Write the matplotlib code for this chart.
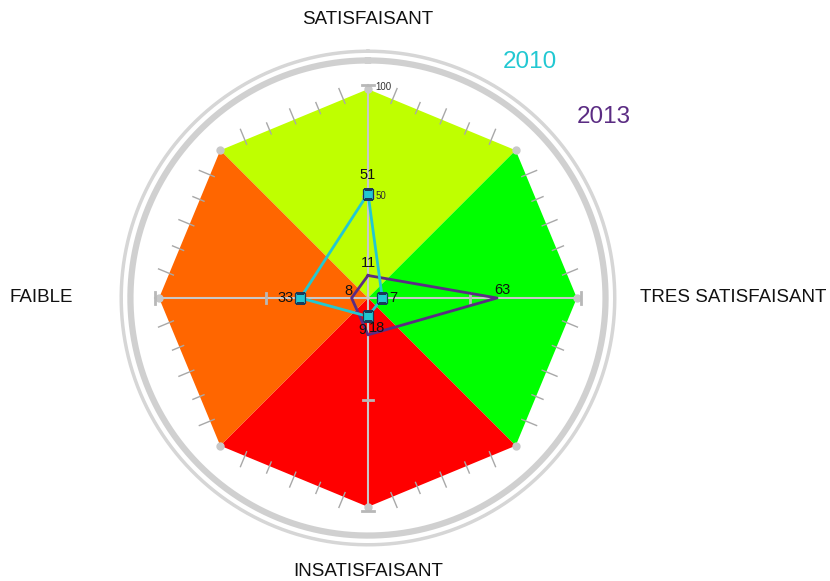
import numpy as np
import matplotlib
matplotlib.use("Agg")
import matplotlib.pyplot as plt

plt.rcParams['font.family'] = ['Liberation Sans', 'DejaVu Sans']

categories = ["SATISFAISANT", "TRES SATISFAISANT", "INSATISFAISANT", "FAIBLE"]
values_2010 = [51, 7, 9, 33]
values_2013 = [11, 63, 18, 8]
series_names = ["2010", "2013"]
scale_ticks = [50, 100]

c2010 = "#22C8D2"
c2013 = "#5B2C83"
zone_colors = ["#BFFF00", "#00FF00", "#FF0000", "#FF6600"]
gray = "#C8C8C8"

fig = plt.figure(figsize=(8.30, 5.81), dpi=100)
ax = fig.add_axes([0.1349, 0.0465, 0.6169, 0.8812], projection='polar')
ax.set_theta_zero_location('N')
ax.set_theta_direction(-1)
ax.set_ylim(0, 125)
ax.grid(False)
ax.spines['polar'].set_visible(False)
ax.set_xticks([])
ax.set_yticks([])
ax.patch.set_alpha(0)

n = len(categories)
angles = np.arange(n) * 2 * np.pi / n
R = 102

def cart2pol(x, y):
    return np.arctan2(x, y), np.hypot(x, y)

# coloured octagon zones
for i, col in enumerate(zone_colors):
    a = angles[i]
    th = [0, a - np.pi / 4, a, a + np.pi / 4, 0]
    rr = [0, R, R, R, 0]
    ax.fill(th, rr, color=col, lw=0, zorder=1)

# ticks along octagon edges
oct_ang = np.arange(8) * np.pi / 4
for k in range(8):
    a1, a2 = oct_ang[k], oct_ang[(k + 1) % 8]
    p1 = np.array([R * np.sin(a1), R * np.cos(a1)])
    p2 = np.array([R * np.sin(a2), R * np.cos(a2)])
    d = p2 - p1
    nrm = np.array([d[1], -d[0]]) / np.hypot(*d)
    if np.dot(nrm, (p1 + p2) / 2) < 0:
        nrm = -nrm
    for j, t in enumerate(np.linspace(0, 1, 7)[1:-1]):
        base = p1 + d * t
        ln = 6 if j % 2 == 0 else 4
        q1 = base - nrm * 2.5
        q2 = base + nrm * ln
        th, rr = cart2pol(np.array([q1[0], q2[0]]), np.array([q1[1], q2[1]]))
        ax.plot(th, rr, color="#A8A8A8", lw=1, zorder=2, solid_capstyle='butt')
    th, rr = cart2pol(p1[0], p1[1])
    ax.plot([th], [rr], 'o', ms=5, color=gray, zorder=2)

# axis lines
for a in angles:
    ax.plot([a, a], [0, 104], color=gray, lw=1.5, zorder=3)
    for tv in scale_ticks:
        r0 = tv if tv < 100 else 104
        half = 2.6 if tv < 100 else 3.0
        x0, y0 = r0 * np.sin(a), r0 * np.cos(a)
        px, py = np.cos(a), -np.sin(a)
        th, rr = cart2pol(np.array([x0 - half * px, x0 + half * px]),
                          np.array([y0 - half * py, y0 + half * py]))
        ax.plot(th, rr, color="#B8B8B8", lw=2, zorder=3)

ax.text(0.035, 103, "100", fontsize=7, color="#333333", va='center', ha='left', zorder=6)
ax.text(0.07, 50, "50", fontsize=7, color="#333333", va='center', ha='left', zorder=6)

# outer rings
th_full = np.linspace(0, 2 * np.pi, 400)
ax.plot(th_full, np.full_like(th_full, 116.0), color="#D0D0D0", lw=4.5, zorder=1)
ax.plot(th_full, np.full_like(th_full, 120.5), color="#D6D6D6", lw=2.5, zorder=1)

# data series
th_c = np.concatenate([angles, angles[:1]])
v13 = np.array(values_2013 + values_2013[:1])
v10 = np.array(values_2010 + values_2010[:1])
ax.plot(th_c, v13, color=c2013, lw=2, zorder=4)
ax.plot(th_c, v10, color=c2010, lw=2, zorder=5)
ax.plot(angles, values_2010, 's', ms=7, mfc=c2010, mec="#1A3A5A", mew=0.9, zorder=6, ls='none')

offs10 = [(0, 8, 'center', 'bottom'), (5, 0, 'left', 'center'),
          (-1, -5, 'right', 'top'), (-5, 0, 'right', 'center')]
offs13 = [(0, 4, 'center', 'bottom'), (4, 1, 'center', 'bottom'),
          (1, 5, 'left', 'center'), (-2, 5, 'center', 'center')]
for a, v, (dx, dy, ha, va) in zip(angles, values_2010, offs10):
    ax.annotate(str(v), (a, v), xytext=(dx, dy), textcoords='offset points',
                ha=ha, va=va, fontsize=10.5, color="#111111", zorder=7)
for a, v, (dx, dy, ha, va) in zip(angles, values_2013, offs13):
    ax.annotate(str(v), (a, v), xytext=(dx, dy), textcoords='offset points',
                ha=ha, va=va, fontsize=10.5, color="#111111", zorder=7)

# category labels
lab_pos = [(0, 136, 'center', 'center'), (np.pi / 2, 133, 'left', 'center'),
           (np.pi, 133.5, 'center', 'center'), (3 * np.pi / 2, 144, 'right', 'center')]
for lab, (a, r, ha, va) in zip(categories, lab_pos):
    ax.text(a, r, lab, ha=ha, va=va, fontsize=13.5, color="#111111", clip_on=False)

fig.text(530 / 830, 1 - 62 / 581, series_names[0], color=c2010, fontsize=17.5,
         ha='center', va='center')
fig.text(604 / 830, 1 - 117 / 581, series_names[1], color=c2013, fontsize=17.5,
         ha='center', va='center')

fig.savefig("out.png", dpi=100)
